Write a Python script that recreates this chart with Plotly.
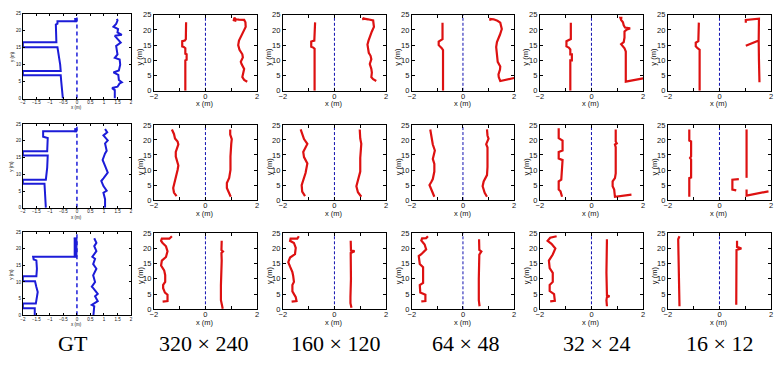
import plotly.graph_objects as go

W, H = 784, 366
RED = "#dd1111"
BLUE = "#1c1cd8"
NAVY = "#1010b0"

# ---------------- data (x, y) in metres ----------------
# Ground truth (blue)
gt1_left = [(-0.52,0),(-0.54,3),(-0.58,5),(-0.6,6.9),(-2,6.9),(-2,8.1),(-0.6,8.1),(-0.62,10),(-0.66,12),
            (-0.7,14),(-0.72,15.1),(-2,15.1),(-2,16.6),(-0.76,16.6),(-0.77,19),(-0.78,21.8),(-0.72,22.1),
            (-0.72,22.8),(0,22.8)]
gt1_blob = [(-0.1,22.7),(0,22.7),(0,23.6),(-0.1,23.6)]
gt1_right = [(1.4,0),(1.4,2.5),(1.3,3.1),(1.5,3.5),(1.58,4.5),(1.66,4.8),(1.55,5.5),(1.53,7),(1.35,7.7),
             (1.55,8.3),(1.6,10),(1.58,11.5),(1.4,12),(1.5,13),(1.47,14.5),(1.45,15.5),(1.62,16.5),(1.5,17.5),
             (1.4,18.5),(1.66,18.8),(1.5,19.5),(1.52,20.5),(1.35,21.2),(1.45,22),(1.5,23),(1.48,23.5)]

gt2_left = [(-1.15,0),(-1.17,4),(-1.2,7.2),(-2,7.2),(-2,8.4),(-1.15,8.4),(-1.1,12),(-1.08,15.6),(-2,15.6),
            (-2,16.9),(-1.1,16.9),(-1.08,20.8),(-1.25,21.2),(-1.25,22.8),(0,22.8)]
gt2_blob = [(-0.1,22.7),(0,22.7),(0,23.6),(-0.1,23.6)]
gt2_right = [(1.04,0),(1.04,2.6),(0.98,4.5),(1.1,5.1),(0.98,6.5),(0.9,8),(0.98,8.8),(1.14,10.5),(1.04,12.5),
             (0.95,14.3),(1.04,16.2),(1.1,17),(1.04,19.2),(1.14,20.1),(0.98,21.6),(1.12,22.5),(1.04,23.5)]

gt3_left = [(-1.56,0),(-1.56,2.1),(-2,2.1),(-2,3.5),(-1.52,3.5),(-1.48,5),(-1.45,7),(-1.5,8.5),(-1.55,10.2),
            (-2,10.2),(-2,11.7),(-1.5,11.7),(-1.48,14),(-1.5,16.5),(-1.6,16.8),(-1.62,17.6),(0,17.6)]
gt3_blob = [(-0.12,17.6),(0,17.6),(0,23.3),(-0.12,23.3)]
gt3_right = [(0.61,0),(0.64,2.7),(0.55,3.1),(0.77,4.2),(0.67,5.7),(0.77,6.4),(0.61,8.1),(0.55,8.6),(0.67,10),
             (0.6,12),(0.72,14),(0.6,15.4),(0.67,17),(0.57,17.6),(0.72,19.3),(0.64,20.8),(0.72,21.8),(0.64,23.2)]

# Row 1 estimates
r1c2_left = [(-0.78,0),(-0.78,10),(-0.73,10.2),(-0.73,12),(-0.78,12.2),(-0.78,14.0),(-0.84,14.4),(-0.9,14.6),
             (-0.9,16.3),(-0.8,16.5),(-0.76,17),(-0.75,22.5)]
r1c2_right = [(1.62,3.0),(1.5,3.6),(1.43,4.5),(1.48,6),(1.5,7.2),(1.4,8.8),(1.37,9.5),(1.45,11),(1.43,12),
              (1.32,13.5),(1.27,15),(1.3,16.5),(1.37,17.8),(1.45,19.5),(1.56,21),(1.55,22.5),(1.5,23.3),
              (1.3,23.4),(1.18,23.5),(1.12,24),(1.1,23.2),(1.2,23)]
r1c3_left = [(-0.77,0),(-0.77,13.8),(-0.82,14.2),(-0.9,14.5),(-0.9,16.2),(-0.78,16.5),(-0.75,22.5)]
r1c3_right = [(1.62,3.2),(1.5,3.8),(1.43,4.5),(1.45,6),(1.43,7.2),(1.37,8.8),(1.43,10.4),(1.4,11.5),(1.33,12.5),
              (1.3,14),(1.28,15.2),(1.32,16.5),(1.37,17.8),(1.45,19.5),(1.53,21),(1.52,22.3),(1.5,23.1),
              (1.3,23.5),(1.15,23.7),(1.11,24),(1.12,23.2)]
r1c4_left = [(-0.78,0),(-0.78,13.4),(-0.83,14),(-0.95,15),(-0.95,16.2),(-0.85,16.6),(-0.8,17),(-0.8,22.4)]
r1c4_right = [(2.0,4.2),(1.7,3.7),(1.46,3.2),(1.4,4.5),(1.39,5.4),(1.45,7),(1.46,8.0),(1.36,9.5),(1.35,10.7),
              (1.33,12),(1.3,14.4),(1.33,16),(1.39,17.1),(1.45,18.5),(1.52,20.3),(1.5,21.5),(1.46,22.4),
              (1.35,23),(1.2,23.5),(1.07,23.6),(1.07,23.0)]
r1c5_left = [(-0.82,0),(-0.82,10),(-0.76,10),(-0.76,12),(-0.82,12),(-0.82,13.6),(-0.88,14.2),(-0.97,14.6),
             (-0.97,16.3),(-0.86,16.6),(-0.8,17),(-0.8,22.4)]
r1c5_right = [(2.0,4.1),(1.6,3.5),(1.33,3.0),(1.33,8),(1.33,12.9),(1.28,14),(1.2,14.8),(1.15,15.3),(1.25,16),
              (1.28,17.5),(1.28,19.5),(1.38,20.2),(1.5,20.5),(1.3,20.8),(1.25,21.5),(1.22,22.5),(1.15,23.3),
              (1.12,24),(1.2,24)]
r1c6_left = [(-0.77,0),(-0.77,13.5),(-0.85,14),(-0.92,14.6),(-0.92,15.8),(-0.82,16.3),(-0.8,22.4)]
r1c6_right = [(1.02,22.4),(1.02,23.3),(1.53,23.7),(1.52,16.5),(1.02,14.8),(1.52,16.5),(1.53,10),(1.55,2.8)]

# Row 2 estimates
r2c2_left = [(-1.12,1.3),(-1.22,2.5),(-1.25,4),(-1.2,5.5),(-1.15,7),(-1.12,8.5),(-1.08,10),(-1.05,11.5),
             (-1.1,13),(-1.15,14.5),(-1.15,16),(-1.1,17.5),(-1.05,18.5),(-1.08,19.5),(-1.18,20.5),(-1.22,22),
             (-1.3,23.5)]
r2c2_right = [(0.98,1.1),(0.9,2.4),(0.83,4),(0.83,5.7),(0.92,7.4),(0.97,10),(0.97,14.5),(1.0,18.7),(1.02,20.3),
              (0.96,21.8),(0.96,23.5)]
r2c3_left = [(-1.14,1.3),(-1.25,2.8),(-1.27,5),(-1.18,7.3),(-1.12,9),(-1.05,12.2),(-1.18,14.3),(-1.21,16),
             (-1.05,18.7),(-1.18,20.3),(-1.25,22),(-1.31,23.5)]
r2c3_right = [(1.04,1.1),(0.91,2.6),(0.85,4.6),(0.91,6.8),(1.0,9.5),(1.0,14),(1.04,18.7),(1.0,20.5),(0.98,23.5)]
r2c4_left = [(-1.12,1.1),(-1.24,3.5),(-1.31,5),(-1.24,6),(-1.18,7),(-1.12,9.5),(-1.12,12),(-1.18,13.7),
             (-1.12,16),(-1.1,16.5),(-1.18,18.5),(-1.24,21),(-1.28,23.5)]
r2c4_right = [(0.94,1.1),(0.85,2.4),(0.77,4.6),(0.81,6.2),(0.94,8.3),(0.96,11),(0.96,15),(0.96,17.5),
              (0.91,18.6),(1.0,20.4),(0.96,21.5),(0.94,23.5)]
r2c5_left = [(-1.14,1.1),(-1.2,2.9),(-1.27,3.5),(-1.27,6.2),(-1.17,6.8),(-1.12,13.3),(-1.27,13.8),(-1.27,16),
             (-1.12,16.5),(-1.12,19.8),(-1.27,20.6),(-1.27,23.9)]
r2c5_right = [(1.55,1.8),(0.91,1.1),(0.88,3.5),(0.82,4.6),(0.82,6.2),(0.91,7.3),(0.94,8.9),(0.94,17.6),
              (0.91,18.5),(0.98,18.9),(0.94,19.5),(0.94,23.5)]
r2c6_left = [(-1.17,1.1),(-1.17,7.3),(-1.1,7.5),(-1.1,13.5),(-1.14,14),(-1.1,14.5),(-1.1,19.5),(-1.17,19.8),
             (-1.17,23.5)]
r2c6_right = [(1.05,23.5),(1.05,7.4),None,(0.75,7.0),(0.5,6.8),(0.5,3.5),(0.65,3.2),None,
              (1.05,3.5),(1.05,1.5),(1.9,2.9)]

# Row 3 estimates
r3c2_left = [(-1.66,2.5),(-1.47,2.7),(-1.47,4.8),(-1.57,5.5),(-1.64,6.9),(-1.64,8),(-1.56,9),(-1.56,11.2),
             (-1.6,12.8),(-1.72,14.4),(-1.69,16),(-1.53,17.2),(-1.47,19.1),(-1.53,20.7),(-1.66,21.8),
             (-1.72,22.5),(-1.69,23.2),(-1.4,23.2),(-1.3,24)]
r3c2_right = [(0.67,0.2),(0.63,1.5),(0.6,3),(0.6,8),(0.62,12),(0.63,16),(0.62,18.5),(0.68,19),(0.62,19.5),
              (0.63,22.5)]
r3c3_left = [(-1.66,2.5),(-1.47,2.7),(-1.5,4),(-1.63,5.9),(-1.63,8),(-1.57,9),(-1.6,11),(-1.63,12.2),
             (-1.72,14),(-1.79,15.5),(-1.72,17),(-1.53,18.1),(-1.5,20.2),(-1.57,21.8),(-1.72,22.5),
             (-1.7,23.2),(-1.44,23.2),(-1.38,24)]
r3c3_right = [(0.66,0.5),(0.62,2),(0.62,4),(0.64,10),(0.63,18.5),(0.78,19.1),(0.64,19.3),(0.63,22.5)]
r3c4_left = [(-1.63,2.6),(-1.47,2.7),(-1.47,4.8),(-1.67,5.5),(-1.69,8),(-1.56,8.7),(-1.56,13.8),(-1.69,14.9),
             (-1.73,17.5),(-1.63,18.1),(-1.44,19.7),(-1.5,21.3),(-1.63,22.6),(-1.6,23.3),(-1.44,23.4),(-1.37,24)]
r3c4_right = [(0.65,1),(0.62,3),(0.62,10),(0.64,18),(0.72,19),(0.64,19.5),(0.63,23)]
r3c5_left = [(-1.6,2.6),(-1.42,2.8),(-1.45,5),(-1.62,6),(-1.62,8),(-1.5,9),(-1.5,12),(-1.62,13.5),(-1.65,16),
             (-1.5,18),(-1.4,20),(-1.55,21.5),(-1.7,22.5),(-1.6,23.5),(-1.35,24)]
r3c5_right = [(0.6,1),(0.58,3),(0.6,4),(0.7,4.3),(0.6,4.6),(0.58,12),(0.6,23)]
r3c6_left = [(-1.55,1),(-1.58,10),(-1.6,23),(-1.55,24)]
r3c6_right = [(0.65,1.5),(0.65,10),(0.66,19.5),(0.85,20),(0.68,20.5),(0.68,22.5)]

col_labels = ["GT", "320 × 240", "160 × 120", "64 × 48", "32 × 24", "16 × 12"]
red_xticks = [-2, -1, 0, 1, 2]
red_xticktext = ["−2", "", "0", "", "2"]
gt_xticks = [-2, -1.5, -1, -0.5, 0, 0.5, 1, 1.5, 2]
gt_xticktext = ["−2", "−1.5", "−1", "−0.5", "0", "0.5", "1", "1.5", "2"]
yticks = [0, 5, 10, 15, 20, 25]

# ---------------- layout geometry (pixels) ----------------
gt_box_x = (19, 128)
gt_rows = [(10, 97), (123, 209), (234, 319)]
red_cols = [(151, 255), (281, 385), (411, 514), (540, 644), (669, 773)]
red_rows = [(11, 89), (124, 201), (235, 313)]

gt_data = [(gt1_left, gt1_blob, gt1_right), (gt2_left, gt2_blob, gt2_right), (gt3_left, gt3_blob, gt3_right)]
red_data = [
    [(r1c2_left, r1c2_right), (r1c3_left, r1c3_right), (r1c4_left, r1c4_right), (r1c5_left, r1c5_right), (r1c6_left, r1c6_right)],
    [(r2c2_left, r2c2_right), (r2c3_left, r2c3_right), (r2c4_left, r2c4_right), (r2c5_left, r2c5_right), (r2c6_left, r2c6_right)],
    [(r3c2_left, r3c2_right), (r3c3_left, r3c3_right), (r3c4_left, r3c4_right), (r3c5_left, r3c5_right), (r3c6_left, r3c6_right)],
]


def split(pts):
    xs, ys = [], []
    for p in pts:
        if p is None:
            xs.append(None); ys.append(None)
        else:
            xs.append(p[0]); ys.append(p[1])
    return xs, ys


fig = go.Figure()
layout = dict(width=W, height=H, margin=dict(l=0, r=0, t=0, b=0), paper_bgcolor="white",
              plot_bgcolor="white", showlegend=False)
annotations = []


def px_dom_x(a, b):
    return [a / W, b / W]


def px_dom_y(t, b):
    return [1 - b / H, 1 - t / H]


def ann(text, px, py, size, family="Arial", angle=0, color="#111"):
    annotations.append(dict(text=text, x=px / W, y=1 - py / H, xref="paper", yref="paper", showarrow=False,
                            xanchor="center", yanchor="middle", textangle=angle,
                            font=dict(size=size, family=family, color=color)))


idx = 0


def add_axes(l, r, t, b, gt):
    global idx
    idx += 1
    sfx = "" if idx == 1 else str(idx)
    fsz = 4.5 if gt else 7.5
    common = dict(ticks="inside", ticklen=2 if gt else 3, tickcolor="black", tickwidth=1, showline=True,
                  linecolor="black", linewidth=1, mirror="ticks", showgrid=False, zeroline=False,
                  fixedrange=True, tickfont=dict(size=fsz, family="Arial", color="#111"))
    xa = dict(common, domain=px_dom_x(l, r), range=[-2, 2], anchor="y" + sfx,
              tickvals=gt_xticks if gt else red_xticks, ticktext=gt_xticktext if gt else red_xticktext,
              ticklabelstandoff=-1 if gt else -2)
    ya = dict(common, domain=px_dom_y(t, b), range=[0, 25], anchor="x" + sfx, tickvals=yticks,
              ticklabelstandoff=0)
    layout["xaxis" + sfx] = xa
    layout["yaxis" + sfx] = ya
    return "x" + sfx, "y" + sfx


for ri in range(3):
    # GT panel
    t, b = gt_rows[ri]
    l, r = gt_box_x
    xr, yr = add_axes(l, r, t, b, True)
    left, blob, right = gt_data[ri]
    fig.add_trace(go.Scatter(x=[0, 0], y=[0, 25], mode="lines", xaxis=xr, yaxis=yr,
                             line=dict(color=BLUE, width=1.5, dash="4px,3px")))
    x, y = split(left)
    fig.add_trace(go.Scatter(x=x, y=y, mode="lines", xaxis=xr, yaxis=yr, line=dict(color=BLUE, width=2)))
    x, y = split(blob)
    fig.add_trace(go.Scatter(x=x, y=y, mode="lines", fill="toself", fillcolor=BLUE, xaxis=xr, yaxis=yr,
                             line=dict(color=BLUE, width=1)))
    x, y = split(right)
    fig.add_trace(go.Scatter(x=x, y=y, mode="lines", xaxis=xr, yaxis=yr, line=dict(color=BLUE, width=2)))
    ann("x (m)", (l + r) / 2, b + 9.5, 4.5)
    ann("y (m)", 8, (t + b) / 2, 4.5, angle=-90)
    # red panels
    t, b = red_rows[ri]
    for ci in range(5):
        l, r = red_cols[ci]
        xr, yr = add_axes(l, r, t, b, False)
        left, right = red_data[ri][ci]
        fig.add_trace(go.Scatter(x=[0, 0], y=[0, 25], mode="lines", xaxis=xr, yaxis=yr,
                                 line=dict(color=NAVY, width=1, dash="3px,2px")))
        for pts in (left, right):
            x, y = split(pts)
            fig.add_trace(go.Scatter(x=x, y=y, mode="lines", xaxis=xr, yaxis=yr,
                                     line=dict(color=RED, width=2.2)))
        ann("x (m)", (l + r) / 2, b + 13.5, 7.5)
        ann("y (m)", l - 14, (t + b) / 2 + 4, 7.5, angle=-90)

caption_x = [70, 201, 334, 465, 597, 721]
for lab, cx in zip(col_labels, caption_x):
    ann(lab, cx, 348, 22, family="Liberation Serif", color="black")

layout["annotations"] = annotations
fig.update_layout(**layout)
fig.write_html("out.html", config={"displayModeBar": False},
               post_script="document.body.style.margin='0';document.body.style.overflow='hidden';")
